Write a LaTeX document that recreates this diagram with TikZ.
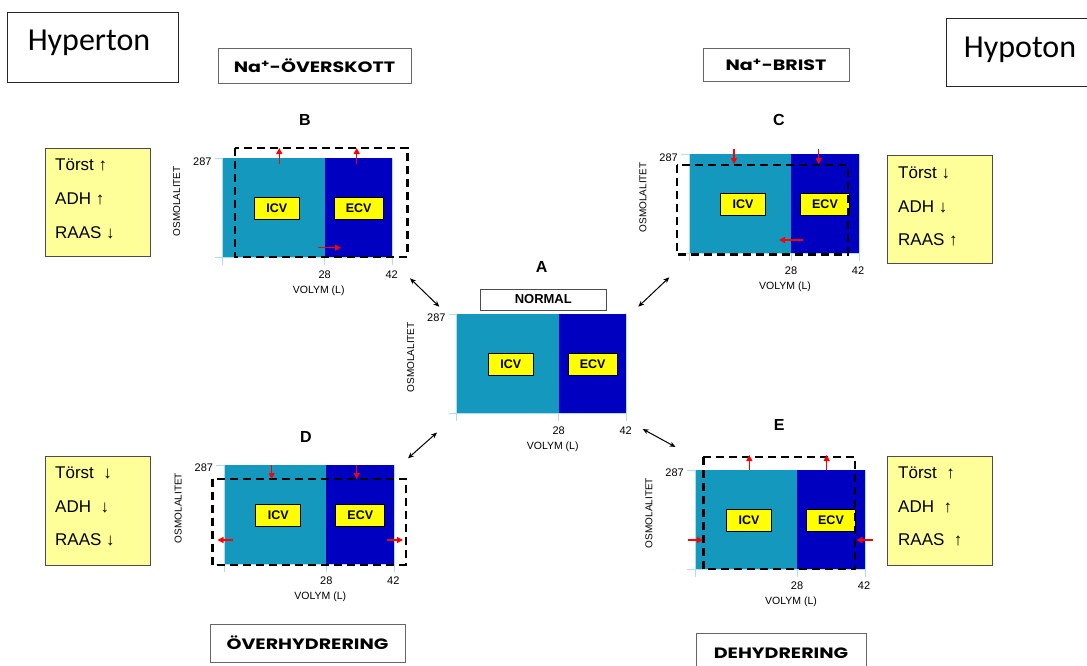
\documentclass[tikz,border=0pt]{standalone}
\usepackage{fontspec}
\setmainfont{Liberation Sans}
\newfontfamily\calib{Carlito}
\newfontfamily\comic{Poppins}[FakeStretch=1.27]
\usetikzlibrary{arrows.meta}
\definecolor{icvcol}{RGB}{20,152,190}
\definecolor{ecvcol}{RGB}{0,0,192}
\definecolor{axiscol}{RGB}{175,222,232}
\definecolor{paleyellow}{RGB}{255,255,153}
\definecolor{lblyellow}{RGB}{255,255,0}
\tikzset{
  axislbl/.style={inner sep=0pt, font=\fontsize{11}{12}\selectfont},
  vlbl/.style={draw=black, line width=0.8pt, fill=lblyellow, inner sep=0pt, minimum height=22pt, font=\bfseries\fontsize{12.5}{13}\selectfont},
  letterlbl/.style={inner sep=0pt, font=\bfseries\fontsize{16}{18}\selectfont},
  dashbox/.style={draw=black, line width=2.4pt, dash pattern=on 8pt off 5pt},
  redarr/.style={draw=red, line width=1.3pt, -{Triangle[length=6pt,width=6pt]}},
  dblarr/.style={draw=black, line width=1pt, {Stealth[length=6pt,width=5pt]}-{Stealth[length=6pt,width=5pt]}},
  infobox/.style={draw=black!70, line width=0.8pt, fill=paleyellow, minimum width=105pt, minimum height=108pt},
  infotxt/.style={inner sep=0pt, anchor=west, font=\fontsize{17}{19}\selectfont},
  tagbox/.style={draw=black!60, line width=0.9pt, inner sep=0pt, font=\comic\bfseries\fontsize{15}{17}\selectfont},
  bigbox/.style={draw=black!85, line width=1pt, inner sep=0pt}
}
\newcommand\fluidpanel[3]{%
\begin{scope}[shift={(#2,#3)}]
 \fill[icvcol] (0,0) rectangle (102,99);
 \fill[ecvcol] (102,0) rectangle (170,99);
 \draw[axiscol, line width=0.9pt] (-8,0) -- (0,0) -- (0,107) (-8,99) -- (170,99) (102,99) -- (102,107) (170,99) -- (170,107) (170,0) -- (170,99);
 \node[axislbl, anchor=east] (#1y) at (-11,3) {287};
 \node[axislbl] (#1t28) at (102,116) {28};
 \node[axislbl] (#1t42) at (169,116) {42};
 \node[axislbl, font=\fontsize{10.5}{12}\selectfont] (#1x) at (96,132) {VOLYM (L)};
 \node[axislbl, rotate=90, font=\fontsize{10}{12}\selectfont] (#1o) at (-46,43) {OSMOLALITET};
 \node[vlbl, minimum width=45pt] (#1icv) at (54,50) {ICV};
 \node[vlbl, minimum width=49pt] (#1ecv) at (136,50) {ECV};
\end{scope}}
\begin{document}
\begin{tikzpicture}[x=1pt,y=-1pt]
\useasboundingbox (0,0) rectangle (1087,665);
\fill[white] (0,0) rectangle (1087,665);

% top boxes
\node[bigbox, minimum width=171pt, minimum height=70pt] (hyper) at (92.5,47) {};
\node[inner sep=0pt, font=\calib\fontsize{32}{34}\selectfont] (hypertxt) at (89,43) {Hyperton};
\draw[black!85, line width=1pt] (1090,18.5) -- (946,18.5) -- (946,86) -- (1090,86);
\node[inner sep=0pt, font=\calib\fontsize{32}{34}\selectfont] (hypotxt) at (1020,50) {Hypoton};

\node[tagbox, minimum width=193pt, minimum height=35pt] (overskott) at (314.5,65.5) {Na\textsuperscript{+}-ÖVERSKOTT};
\node[tagbox, minimum width=146pt, minimum height=33pt] (brist) at (776,64.5) {Na\textsuperscript{+}-BRIST};
\node[tagbox, minimum width=195pt, minimum height=38pt] (overhyd) at (307.5,643) {ÖVERHYDRERING};
\draw[black!60, line width=0.9pt] (696,668) -- (696,633) -- (866,633) -- (866,668);
\node[inner sep=0pt, font=\comic\bfseries\fontsize{15}{17}\selectfont] (dehyd) at (781,653) {DEHYDRERING};

% panels
\fluidpanel{A}{456.7}{314.3}
\fluidpanel{B}{222.7}{158.3}
\fluidpanel{C}{689}{154.3}
\fluidpanel{D}{224.3}{465}
\fluidpanel{E}{695}{470}

\node[letterlbl] (la) at (541.7,267.3) {A};
\node[letterlbl] (lb) at (305,120) {B};
\node[letterlbl] (lc) at (779,120) {C};
\node[letterlbl] (ld) at (306,436.7) {D};
\node[letterlbl] (le) at (779.3,425) {E};
\node[draw=black!70, line width=0.9pt, minimum width=126pt, minimum height=21pt, inner sep=0pt, font=\bfseries\fontsize{13}{14}\selectfont] (normal) at (543.3,299.5) {NORMAL};

% B
\draw[dashbox] (235,147.7) rectangle (407.3,256.7);
\draw[redarr] (279.3,164) -- (279.3,148);
\draw[redarr] (356.7,164) -- (356.7,148);
\draw[redarr] (317.7,247.7) -- (341,247.7);
% C
\draw[dashbox] (676.7,165) rectangle (847.7,254.3);
\draw[redarr] (734,148.5) -- (734,164);
\draw[redarr] (818.7,148.5) -- (818.7,164);
\draw[redarr] (803.3,240) -- (779,240);
% D
\draw[dashbox] (212.3,479) rectangle (405.7,565);
\draw[redarr] (271.7,464.5) -- (271.7,479);
\draw[redarr] (356.7,464.5) -- (356.7,479);
\draw[redarr] (233.3,540) -- (217.5,540);
\draw[redarr] (386.7,540) -- (403,540);
% E
\draw[dashbox] (703.3,456.7) rectangle (855,569);
\draw[redarr] (749.3,469.5) -- (749.3,455);
\draw[redarr] (826.7,469.5) -- (826.7,455);
\draw[redarr] (687.7,540) -- (703,540);
\draw[redarr] (872.7,540) -- (856.5,540);

% double arrows
\coordinate (ab1) at (410,278.3); \coordinate (ab2) at (439.3,306.7);
\coordinate (ac1) at (638.3,306.7); \coordinate (ac2) at (669.3,277.3);
\coordinate (ad1) at (408,458.3); \coordinate (ad2) at (437,432.5);
\coordinate (ae1) at (642.7,429); \coordinate (ae2) at (675.5,447);
\draw[dblarr] (ab1) -- (ab2);
\draw[dblarr] (ac1) -- (ac2);
\draw[dblarr] (ad1) -- (ad2);
\draw[dblarr] (ae1) -- (ae2);

% info boxes
\node[infobox] (ib) at (97.5,202.5) {};
\node[infotxt] (ib1) at (55,165) {Törst ↑};
\node[infotxt] (ib2) at (55,199) {ADH ↑};
\node[infotxt] (ib3) at (55,232.5) {RAAS ↓};

\node[infobox, minimum height=108pt] (ic) at (940,209) {};
\node[infotxt] (ic1) at (898,173) {Törst ↓};
\node[infotxt] (ic2) at (898,207) {ADH ↓};
\node[infotxt] (ic3) at (898,240) {RAAS ↑};

\node[infobox, minimum height=109pt] (id) at (97.5,510.5) {};
\node[infotxt] (id1) at (55,473) {Törst \ ↓};
\node[infotxt] (id2) at (55,507) {ADH \ ↓};
\node[infotxt] (id3) at (55,540) {RAAS ↓};

\node[infobox, minimum height=109pt] (ie) at (940,510.5) {};
\node[infotxt] (ie1) at (898,473) {Törst \ ↑};
\node[infotxt] (ie2) at (898,507) {ADH \ ↑};
\node[infotxt] (ie3) at (898,540) {RAAS \ ↑};
\end{tikzpicture}
\end{document}
